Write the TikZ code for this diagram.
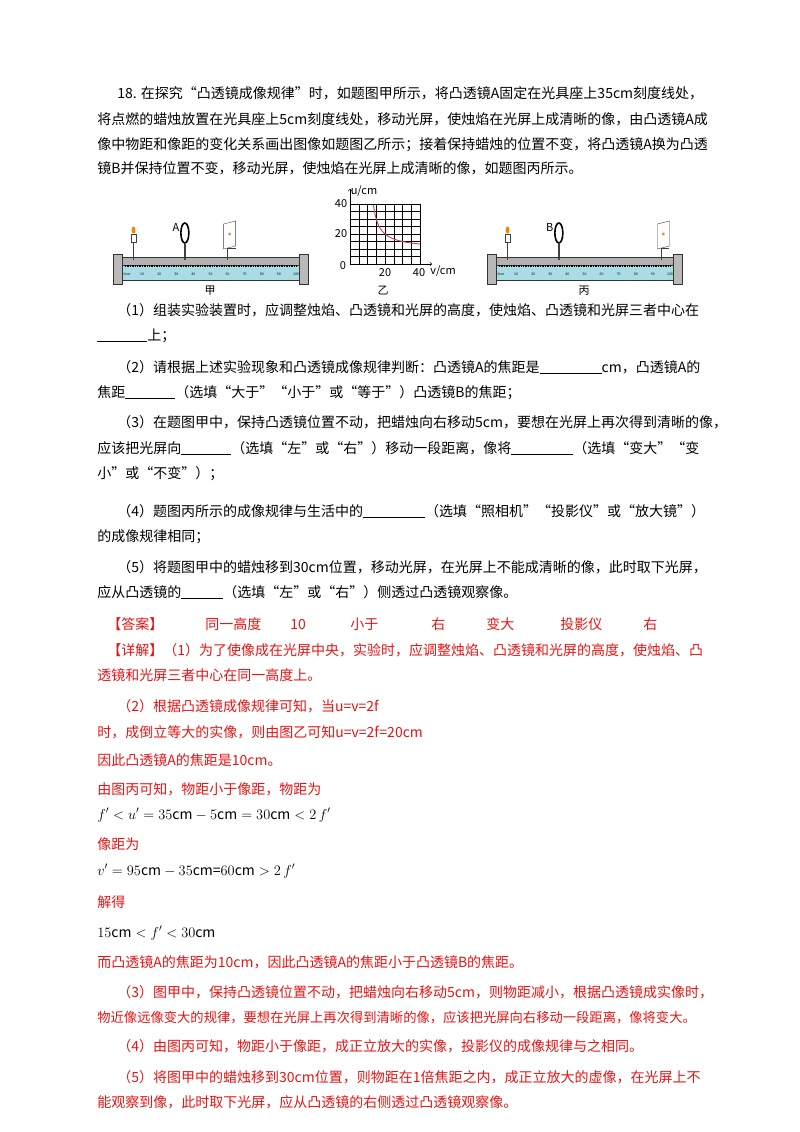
\documentclass[tikz,border=0pt]{standalone}
\usepackage{fontspec}
\setmainfont{Noto Sans CJK SC}
\usetikzlibrary{positioning}
\definecolor{ansred}{RGB}{232,20,20}
\definecolor{scaleblue}{RGB}{170,220,230}
\definecolor{curvepink}{RGB}{200,60,110}
\tikzset{every picture/.style={line width=0.75pt}}
\tikzset{
  txt/.style={anchor=base west,inner sep=0pt,font=\fontsize{14}{16}\selectfont},
  ans/.style={txt,text=ansred},
  tiny/.style={inner sep=0pt,font=\fontsize{3.5}{4}\selectfont},
  figlbl/.style={inner sep=0pt,font=\fontsize{11}{12}\selectfont}
}
\newcommand{\blank}[1]{\underline{\hspace{#1pt}}}
% optical bench at shift #1: candle pos #2, lens pos #3 label #4, screen pos #5
\newcommand{\opbench}[5]{%
\begin{scope}[shift={(#1,0)}]
  \fill[gray!60,draw=gray!40!black,line width=0.4pt] (5,257) rectangle (190,265);
  \fill[scaleblue,draw=gray!40!black,line width=0.4pt] (5,265) rectangle (190,280);
  \fill[gray!55,draw=gray!40!black,line width=0.4pt] (0,254) rectangle (9,284);
  \fill[gray!55,draw=gray!40!black,line width=0.4pt] (186,254) rectangle (195,284);
  \foreach \i in {0,...,100}{\draw[line width=0.2pt] ({12+1.71*\i},265) -- ({12+1.71*\i},267);}
  \foreach \i in {10,20,...,100}{\node[tiny] at ({12+1.71*\i},274) {\i};}
  \node[tiny] at (14,274) {0cm};
  % candle
  \draw[line width=1.6pt,gray!50!black] ({12+1.71*#2},240) -- ({12+1.71*#2},260);
  \fill[white,draw=gray!50!black,line width=0.4pt] ({9.5+1.71*#2},234) rectangle ({14.5+1.71*#2},242);
  \fill[orange] ({12+1.71*#2},230) ellipse (2 and 3.5);
  % lens
  \draw[line width=1.6pt,gray!50!black] ({12+1.71*#3},244) -- ({12+1.71*#3},260);
  \draw[line width=1.6pt] ({12+1.71*#3},233) ellipse (4 and 10);
  \node[inner sep=0pt,font=\fontsize{11}{12}\itshape] at ({3+1.71*#3},227) {#4};
  % screen
  \draw[line width=1.6pt,gray!50!black] ({12+1.71*#5},248) -- ({12+1.71*#5},260);
  \draw[line width=1pt,gray!50!black] ({12+1.71*#5},248) -- ({20+1.71*#5},248);
  \fill[white,draw=gray!50!black,line width=0.4pt] ({8+1.71*#5},224) -- ({20+1.71*#5},221) -- ({20+1.71*#5},246) -- ({8+1.71*#5},249) -- cycle;
  \fill[orange] ({14+1.71*#5},234) circle (1.5);
\end{scope}}

\begin{document}
\begin{tikzpicture}[x=1pt,y=-1pt]
\fill[white] (0,0) rectangle (800,1132);
\useasboundingbox (0,0) rectangle (800,1132);

% question
\node[txt] (q1) at (117,99) {18. 在探究“凸透镜成像规律”时，如题图甲所示，将凸透镜A固定在光具座上35cm刻度线处，};
\node[txt] (q2) at (97,124) {将点燃的蜡烛放置在光具座上5cm刻度线处，移动光屏，使烛焰在光屏上成清晰的像，由凸透镜A成};
\node[txt] (q3) at (97,149) {像中物距和像距的变化关系画出图像如题图乙所示；接着保持蜡烛的位置不变，将凸透镜A换为凸透};
\node[txt] (q4) at (97,173) {镜B并保持位置不变，移动光屏，使烛焰在光屏上成清晰的像，如题图丙所示。};

% figures
\opbench{113}{5}{35}{A}{60}
\opbench{487}{5}{35}{B}{95}
\node[figlbl] (jia) at (210,291) {甲};
\node[figlbl] (bing) at (584,291) {丙};
\foreach \k in {0,...,8}{\draw[line width=0.5pt] (350,{264-7.5*\k}) -- (420,{264-7.5*\k});}
\foreach \k in {1,...,8}{\draw[line width=0.5pt] ({350+8.75*\k},204) -- ({350+8.75*\k},264);}
\draw[line width=1pt] (350,256.5) -- (420,256.5);
\draw[->,line width=0.6pt] (350,264) -- (350,189);
\draw[->,line width=0.6pt] (350,264) -- (432,264);
\draw[curvepink,line width=0.9pt,domain=13.4:40,samples=60] plot ({350+1.75*\x},{264-1.5*(10*\x/(\x-10))});
\node[figlbl] (ylab) at (364,191) {\textit{u}/cm};
\node[figlbl] (y40) at (341,204) {40};
\node[figlbl] (y20) at (341,234) {20};
\node[figlbl] (y0) at (343,266) {0};
\node[figlbl] (x20) at (385,273) {20};
\node[figlbl] (x40) at (419,273) {40};
\node[figlbl] (xlab) at (443,271) {\textit{v}/cm};
\node[figlbl] (yi) at (383,291) {乙};

% sub-questions
\node[txt] (s1) at (117,315) {（1）组装实验装置时，应调整烛焰、凸透镜和光屏的高度，使烛焰、凸透镜和光屏三者中心在};
\node[txt] (s1b) at (97,340) {\blank{50}上；};
\node[txt] (s2) at (117,372) {（2）请根据上述实验现象和凸透镜成像规律判断：凸透镜A的焦距是\blank{62}cm，凸透镜A的};
\node[txt] (s2b) at (97,397) {焦距\blank{50}（选填“大于”“小于”或“等于”）凸透镜B的焦距；};
\node[txt] (s3) at (117,427) {（3）在题图甲中，保持凸透镜位置不动，把蜡烛向右移动5cm，要想在光屏上再次得到清晰的像，};
\node[txt] (s3b) at (97,453) {应该把光屏向\blank{50}（选填“左”或“右”）移动一段距离，像将\blank{62}（选填“变大”“变};
\node[txt] (s3c) at (97,478) {小”或“不变”）；};
\node[txt] (s4) at (117,516) {（4）题图丙所示的成像规律与生活中的\blank{62}（选填“照相机”“投影仪”或“放大镜”）};
\node[txt] (s4b) at (97,541) {的成像规律相同；};
\node[txt] (s5) at (117,572) {（5）将题图甲中的蜡烛移到30cm位置，移动光屏，在光屏上不能成清晰的像，此时取下光屏，};
\node[txt] (s5b) at (97,597) {应从凸透镜的\blank{42}（选填“左”或“右”）侧透过凸透镜观察像。};

% answers
\node[ans] (a0) at (107,629) {【答案】};
\node[ans] (a1) at (205,629) {同一高度};
\node[ans] (a2) at (290,629) {10};
\node[ans] (a3) at (350,629) {小于};
\node[ans] (a4) at (431,629) {右};
\node[ans] (a5) at (486,629) {变大};
\node[ans] (a6) at (560,629) {投影仪};
\node[ans] (a7) at (643,629) {右};

% explanation
\node[ans] (e1) at (107,655) {【详解】（1）为了使像成在光屏中央，实验时，应调整烛焰、凸透镜和光屏的高度，使烛焰、凸};
\node[ans] (e2) at (97,680) {透镜和光屏三者中心在同一高度上。};
\node[ans] (e3) at (117,711) {（2）根据凸透镜成像规律可知，当\textit{u}=\textit{v}=2\textit{f}};
\node[ans] (e4) at (97,737) {时，成倒立等大的实像，则由图乙可知\textit{u}=\textit{v}=2\textit{f}=20cm};
\node[ans] (e5) at (97,765) {因此凸透镜A的焦距是10cm。};
\node[ans] (e6) at (97,794) {由图丙可知，物距小于像距，物距为};
\node[txt] (e7) at (97,819) {$f'<u'=35\mathrm{cm}-5\mathrm{cm}=30\mathrm{cm}<2\,f'$};
\node[ans] (e8) at (97,849) {像距为};
\node[txt] (e9) at (97,875) {$v'=95\mathrm{cm}-35\mathrm{cm}$=$60\mathrm{cm}>2\,f'$};
\node[ans] (e10) at (97,907) {解得};
\node[txt] (e11) at (97,937) {$15\mathrm{cm}<f'<30\mathrm{cm}$};
\node[ans] (e12) at (97,967) {而凸透镜A的焦距为10cm，因此凸透镜A的焦距小于凸透镜B的焦距。};
\node[ans] (e13) at (117,997) {（3）图甲中，保持凸透镜位置不动，把蜡烛向右移动5cm，则物距减小，根据凸透镜成实像时，};
\node[ans,font=\fontsize{13.3}{16}\selectfont] (e14) at (97,1022) {物近像远像变大的规律，要想在光屏上再次得到清晰的像，应该把光屏向右移动一段距离，像将变大。};
\node[ans] (e15) at (117,1051) {（4）由图丙可知，物距小于像距，成正立放大的实像，投影仪的成像规律与之相同。};
\node[ans] (e16) at (117,1082) {（5）将图甲中的蜡烛移到30cm位置，则物距在1倍焦距之内，成正立放大的虚像，在光屏上不};
\node[ans] (e17) at (97,1107) {能观察到像，此时取下光屏，应从凸透镜的右侧透过凸透镜观察像。};
\end{tikzpicture}
\end{document}
